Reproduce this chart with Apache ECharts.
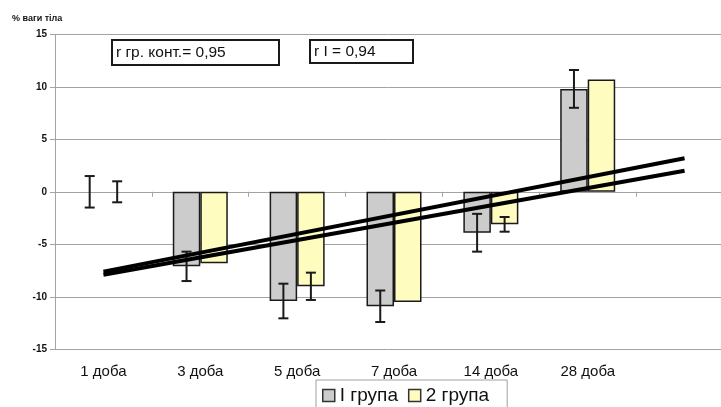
<!DOCTYPE html>
<html>
<head>
<meta charset="utf-8">
<script src="https://cdn.jsdelivr.net/npm/echarts@6/dist/echarts.min.js"></script>
<style>
  html, body { margin: 0; padding: 0; background: #fff; }
  #chart { width: 721px; height: 407px; }
</style>
</head>
<body>
<div id="chart"></div>
<script>
// Day labels; the last slot is left blank so the trend lines can run one period further
const categories = ['1 доба', '3 доба', '5 доба', '7 доба', '14 доба', '28 доба', ''];

// Mean change in body weight, %
const group1 = [0, -7.1, -10.4, -10.9, -3.9, 9.8, null];
const group2 = [0, -6.8, -9.0, -10.5, -3.1, 10.7, null];

// Half-width of the error bars (null = not shown)
const err1 = [1.5, 1.4, 1.65, 1.5, 1.8, 1.8, null];
const err2 = [1.0, null, 1.3, null, 0.7, null, null];

// Linear trend lines: start and end values, intermediate points joined
const trend1 = [-7.9, null, null, null, null, null, 2.0];
const trend2 = [-7.6, null, null, null, null, null, 3.2];

const yTicks = { min: -15, max: 15, step: 5 };
const seriesNames = ['I група', '2 група'];
const notes = ['r гр. конт.= 0,95', 'r I = 0,94'];
const yTitle = '% ваги тіла';

const FONT = '"Liberation Sans", Arial, sans-serif';
const GRID_COLOR = '#a7a1a1';
const EDGE = '#1a1a1a';
const BAR_W = 27.5;

function barData(values) {
  return values.map(v => v === 0
    ? { value: v, itemStyle: { borderWidth: 0 } }
    : v);
}

function errData(values, errs) {
  const out = [];
  values.forEach((v, i) => {
    if (errs[i] != null) out.push([i, v == null ? 0 : v, errs[i]]);
  });
  return out;
}

function errRenderer(offset) {
  return function (params, api) {
    const i = api.value(0), m = api.value(1), e = api.value(2);
    const top = api.coord([i, m + e]);
    const bot = api.coord([i, m - e]);
    const x = top[0] + offset;
    const cap = 5;
    const style = { stroke: EDGE, lineWidth: 2 };
    return {
      type: 'group',
      children: [
        { type: 'line', shape: { x1: x, y1: top[1], x2: x, y2: bot[1] }, style },
        { type: 'line', shape: { x1: x - cap, y1: top[1], x2: x + cap, y2: top[1] }, style },
        { type: 'line', shape: { x1: x - cap, y1: bot[1], x2: x + cap, y2: bot[1] }, style }
      ]
    };
  };
}

function noteBox(text, x, y, w, h) {
  return {
    type: 'group',
    left: x, top: y,
    children: [
      { type: 'rect', shape: { x: 0, y: 0, width: w, height: h },
        style: { fill: '#fff', stroke: EDGE, lineWidth: 2 } },
      { type: 'text', x: 4, y: h / 2,
        style: { text: text, fill: '#111', font: '15.5px ' + FONT, verticalAlign: 'middle' } }
    ]
  };
}

const chart = echarts.init(document.getElementById('chart'));
chart.setOption({
  animation: false,
  backgroundColor: '#fff',
  title: {
    text: yTitle,
    left: 12, top: 14, padding: 0,
    textStyle: { fontFamily: FONT, fontSize: 9, fontWeight: 'bold', color: '#111' }
  },
  // the plot area runs a little past the right edge of the page
  grid: {
    left: 55, width: 678, top: 34.3, bottom: 57.7,
    containLabel: false, outerBoundsMode: 'none'
  },
  legend: {
    data: [
      { name: seriesNames[0], itemStyle: { color: '#cccccc', borderColor: '#333', borderWidth: 1.5 } },
      { name: seriesNames[1], itemStyle: { color: '#fffcc0', borderColor: '#333', borderWidth: 1.5 } }
    ],
    selectedMode: false,
    icon: 'rect',
    left: 316, top: 380,
    padding: [6, 18, 12, 6],
    itemWidth: 12, itemHeight: 12, itemGap: 10,
    borderColor: '#a0a0a0', borderWidth: 1,
    textStyle: { fontFamily: FONT, fontSize: 19, color: '#111' }
  },
  xAxis: [
    {
      type: 'category', data: categories, position: 'bottom',
      axisLine: { show: false, onZero: false },
      axisTick: { show: false },
      axisLabel: { fontFamily: FONT, fontSize: 15, color: '#111', margin: 15, interval: 0 },
      splitLine: { show: false }
    },
    {
      type: 'category', data: categories, position: 'bottom',
      axisLine: { show: true, onZero: true, lineStyle: { color: GRID_COLOR, width: 1 } },
      axisTick: { show: true, length: 5, interval: 0, lineStyle: { color: GRID_COLOR } },
      axisLabel: { show: false },
      splitLine: { show: false }
    }
  ],
  yAxis: {
    type: 'value', min: yTicks.min, max: yTicks.max, interval: yTicks.step,
    axisLine: { show: true, lineStyle: { color: GRID_COLOR, width: 1 } },
    axisTick: { show: true, length: 5, lineStyle: { color: GRID_COLOR } },
    axisLabel: { fontFamily: FONT, fontSize: 10, fontWeight: 'bold', color: '#111', margin: 8 },
    splitLine: { show: true, lineStyle: { color: GRID_COLOR, width: 1 } }
  },
  graphic: [
    noteBox(notes[0], 111, 39, 167, 25),
    noteBox(notes[1], 309, 39, 103, 23)
  ],
  series: [
    {
      name: seriesNames[0], type: 'bar', xAxisIndex: 0,
      data: barData(group1), barWidth: BAR_W, barGap: '0%',
      itemStyle: { color: '#cccccc', borderColor: EDGE, borderWidth: 1.5 },
      z: 2
    },
    {
      name: seriesNames[1], type: 'bar', xAxisIndex: 0,
      data: barData(group2), barWidth: BAR_W, barGap: '0%',
      itemStyle: { color: '#fffcc0', borderColor: EDGE, borderWidth: 1.5 },
      z: 2
    },
    {
      type: 'custom', xAxisIndex: 0, data: errData(group1, err1),
      renderItem: errRenderer(-BAR_W / 2), z: 3, silent: true
    },
    {
      type: 'custom', xAxisIndex: 0, data: errData(group2, err2),
      renderItem: errRenderer(BAR_W / 2), z: 3, silent: true
    },
    {
      type: 'line', xAxisIndex: 0, data: trend1, connectNulls: true,
      symbol: 'none', lineStyle: { color: '#000', width: 4 }, z: 4, silent: true
    },
    {
      type: 'line', xAxisIndex: 0, data: trend2, connectNulls: true,
      symbol: 'none', lineStyle: { color: '#000', width: 4 }, z: 4, silent: true
    }
  ]
});
</script>
</body>
</html>
